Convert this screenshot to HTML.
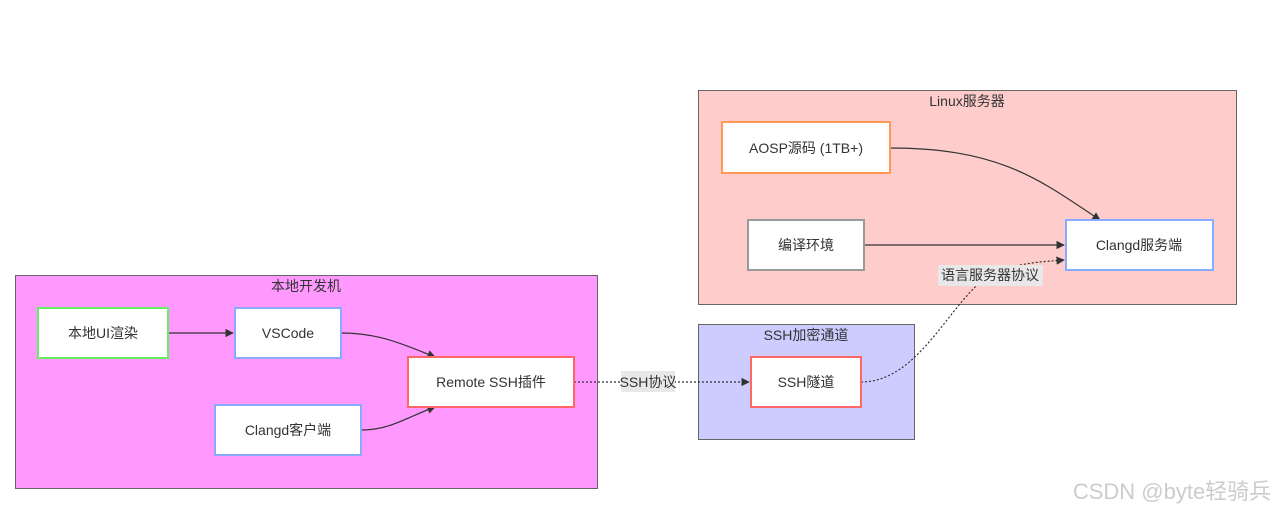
<!DOCTYPE html>
<html><head><meta charset="utf-8"><style>
body{margin:0;width:1280px;height:512px;background:#fff;overflow:hidden;font-family:"Liberation Sans","Noto Sans CJK SC",sans-serif;}
</style></head><body>
<svg width="1280" height="512" xmlns="http://www.w3.org/2000/svg" font-family="Liberation Sans, Noto Sans CJK SC, sans-serif" font-size="14" fill="#333">
<defs><marker id="a" viewBox="0 0 10 10" refX="9" refY="5" markerWidth="7" markerHeight="7" orient="auto"><path d="M0,0L10,5L0,10z" fill="#333"/></marker></defs>
<rect x="15.5" y="275.5" width="582" height="213" fill="#ff99ff" stroke="#666"/>
<rect x="698.5" y="90.5" width="538" height="214" fill="#ffcccc" stroke="#666"/>
<rect x="698.5" y="324.5" width="216" height="115" fill="#ccccff" stroke="#666"/>
<g text-anchor="middle" fill="#333">
<text x="306" y="291">本地开发机</text>
<text x="967" y="106">Linux服务器</text>
<text x="806" y="340">SSH加密通道</text>
</g>
<g fill="none" stroke="#333" stroke-width="1.2">
<path d="M168,333 L233,333" marker-end="url(#a)"/>
<path d="M341,333 C380,333 405,345 435,357" marker-end="url(#a)"/>
<path d="M361,430 C390,430 405,418 435,407" marker-end="url(#a)"/>
<path d="M890,148 C1000,148 1040,180 1100,220" marker-end="url(#a)"/>
<path d="M864,245 L1064,245" marker-end="url(#a)"/>
<path d="M574,382 L749,382" stroke-dasharray="2,2" marker-end="url(#a)"/>
<path d="M861,382 C920,382 950,300 990,275 C1020,262 1040,262 1064,260" stroke-dasharray="2,2" marker-end="url(#a)"/>
</g>
<g stroke-width="2" fill="#fff">
<rect x="38" y="308" width="130" height="50" stroke="#66ee66"/>
<rect x="235" y="308" width="106" height="50" stroke="#88aaff"/>
<rect x="408" y="357" width="166" height="50" stroke="#ff6666"/>
<rect x="215" y="405" width="146" height="50" stroke="#88aaff"/>
<rect x="751" y="357" width="110" height="50" stroke="#ff6666"/>
<rect x="722" y="122" width="168" height="51" stroke="#ff9955"/>
<rect x="748" y="220" width="116" height="50" stroke="#999"/>
<rect x="1066" y="220" width="147" height="50" stroke="#88aaff"/>
</g>
<rect x="621" y="371" width="54" height="21" fill="#e8e8e8"/>
<rect x="938" y="265" width="105" height="21" fill="#e8e8e8"/>
<g text-anchor="middle">
<text x="103" y="338">本地UI渲染</text>
<text x="288" y="338">VSCode</text>
<text x="491" y="387">Remote SSH插件</text>
<text x="288" y="435">Clangd客户端</text>
<text x="806" y="387">SSH隧道</text>
<text x="806" y="153">AOSP源码 (1TB+)</text>
<text x="806" y="250">编译环境</text>
<text x="1139" y="250">Clangd服务端</text>
<text x="648" y="387">SSH协议</text>
<text x="990" y="280">语言服务器协议</text>
</g>
<text x="1172" y="499" text-anchor="middle" font-size="22" fill="#ccc">CSDN @byte轻骑兵</text>
</svg>
</body></html>
